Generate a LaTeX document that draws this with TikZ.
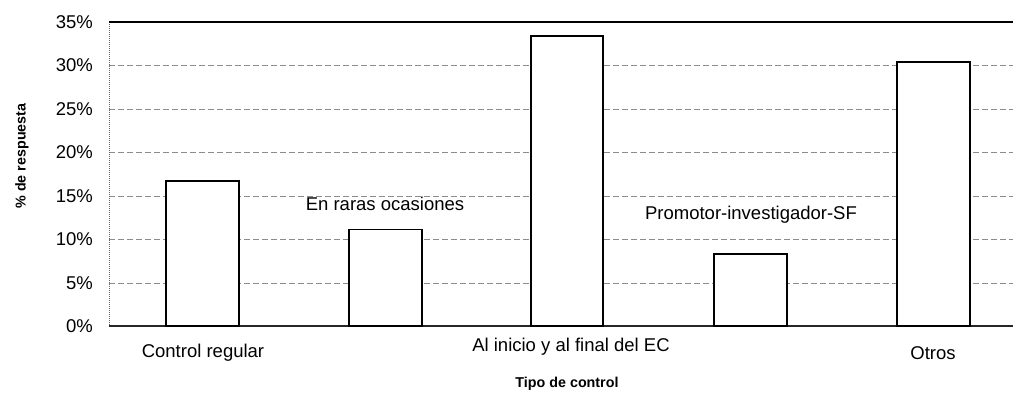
\documentclass[tikz,border=0pt]{standalone}
\usepackage{fontspec}
\setmainfont{Liberation Sans}

\tikzset{
    bar/.style={draw=black, line width=1.7pt, fill=white},
    gridline/.style={black!45, dashed, dash pattern=on 6pt off 3pt, line width=0.7pt},
    ticklabel/.style={anchor=east, inner sep=0pt, font=\fontsize{18.5}{20}\selectfont},
    catlabel/.style={inner sep=0pt, font=\fontsize{18.5}{20}\selectfont},
    axistitle/.style={inner sep=0pt, font=\fontsize{14.3}{16}\selectfont\bfseries},
}

\begin{document}
\begin{tikzpicture}[x=1pt,y=-1pt]
    \useasboundingbox (0,0) rectangle (1013,403);

    % grid
    \draw[gridline] (109,65) -- (1013,65);
    \draw[gridline] (109,109) -- (1013,109);
    \draw[gridline] (109,152) -- (1013,152);
    \draw[gridline] (109,196) -- (1013,196);
    \draw[gridline] (109,239) -- (1013,239);
    \draw[gridline] (109,283) -- (1013,283);

    % frame
    \draw[black!60, densely dotted, line width=1pt] (109,22) -- (109,326);
    \draw[black, line width=1.1pt] (109,22) -- (1013,22);
    \draw[black!85, line width=1.1pt] (109,326) -- (1013,326);

    % bars
    \draw[bar] (166,326) rectangle (239,181);
    \draw[bar] (349,326) rectangle (422,229.5);
    \draw[bar] (531,326) rectangle (603,36);
    \draw[bar] (714,326) rectangle (787,254);
    \draw[bar] (897,326) rectangle (970,62);

    % y ticks
    \node[ticklabel] (y0) at (93,326) {0\%};
    \node[ticklabel] (y5) at (93,283) {5\%};
    \node[ticklabel] (y10) at (93,239) {10\%};
    \node[ticklabel] (y15) at (93,196) {15\%};
    \node[ticklabel] (y20) at (93,152) {20\%};
    \node[ticklabel] (y25) at (93,109) {25\%};
    \node[ticklabel] (y30) at (93,65) {30\%};
    \node[ticklabel] (y35) at (93,22) {35\%};

    % categories
    \node[catlabel] (regular) at (203,353) {Control regular};
    \node[catlabel] (raras) at (385,204) {En raras ocasiones};
    \node[catlabel] (inicio) at (571,347) {Al inicio y al final del EC};
    \node[catlabel] (promotor) at (751,215) {Promotor-investigador-SF};
    \node[catlabel] (otros) at (933,353) {Otros};

    % titles
    \node[axistitle] (xtitle) at (567,384) {Tipo de control};
    \node[axistitle, rotate=90] (ytitle) at (22,156) {\% de respuesta};
\end{tikzpicture}
\end{document}
